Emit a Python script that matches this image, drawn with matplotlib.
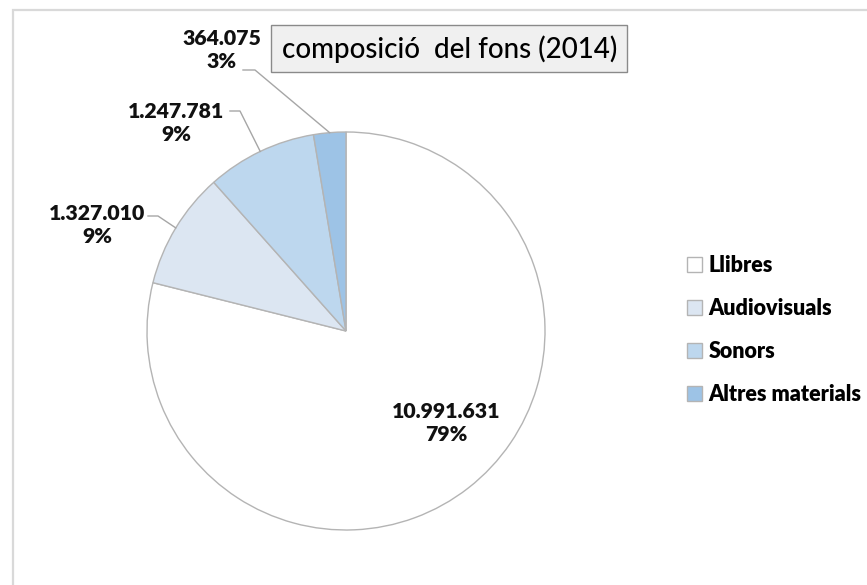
import numpy as np
import matplotlib.pyplot as plt
from matplotlib.patches import Rectangle

plt.rcParams['font.family'] = ['Lato', 'DejaVu Sans']

# Data
categories = ["Llibres", "Audiovisuals", "Sonors", "Altres materials"]
values = [10991631, 1327010, 1247781, 364075]
pct_labels = ["79%", "9%", "9%", "3%"]
colors = ["#ffffff", "#dce6f2", "#bdd7ee", "#9dc3e6"]
title = "composició  del fons (2014)"

W, H = 867, 585  # work in pixel coordinates (y measured from the top)


def py(y):
    return H - y


fig = plt.figure(figsize=(8.67, 5.85), dpi=100)
ax = fig.add_axes([0, 0, 1, 1])

cx, cy, r = 346, 331, 199
wedges, _ = ax.pie(values, colors=colors, startangle=90, counterclock=False,
                   center=(cx, py(cy)), radius=r, frame=True,
                   wedgeprops=dict(edgecolor="#b4b4b4", linewidth=1.0))
ax.set_xlim(0, W)
ax.set_ylim(0, H)
ax.set_aspect("equal")
ax.axis("off")

# outer chart frame (left and top edges visible)
ax.plot([13, 13, W], [py(H), py(10), py(10)], color="#d9d9d9", lw=1.6,
        solid_joinstyle="miter", zorder=0)

# title box
ax.add_patch(Rectangle((271, py(72)), 356, 47, facecolor="#f0f0f0",
                       edgecolor="#8a8a8a", lw=1.0, zorder=3))
ax.text(450, py(49), title, ha="center", va="center", fontsize=20,
        fontweight="medium", color="#000000", zorder=4)


def fmt(v):
    return f"{v:,}".replace(",", ".")


# label layout: (text centre, leader start, leader elbow) in image pixels
label_pos = [(446, 423), (97, 225), (176, 123), (222, 50)]
leaders = [None, ((148, 216), (158, 216)), ((230, 111), (240, 111)),
           ((243, 70), (255, 70))]

for i, w in enumerate(wedges):
    tx, ty = label_pos[i]
    ax.text(tx, py(ty), f"{fmt(values[i])}\n{pct_labels[i]}", ha="center",
            va="center", multialignment="center", fontsize=15.3,
            fontweight="heavy", color="#111111", linespacing=1.3, zorder=5)
    if leaders[i] is not None:
        mid = np.deg2rad((w.theta1 + w.theta2) / 2)
        ex, ey = cx + r * np.cos(mid), py(cy) + r * np.sin(mid)
        (sx, sy), (bx, by) = leaders[i]
        ax.plot([sx, bx, ex], [py(sy), py(by), ey], color="#a6a6a6", lw=1.0,
                zorder=2)

fig.legend(wedges, categories, loc="upper left",
           bbox_to_anchor=(687 / W, 1 - 255 / H), frameon=False,
           borderpad=0, borderaxespad=0, handlelength=0.7, handleheight=0.7,
           handletextpad=0.3, labelspacing=1.02,
           prop=dict(family="Lato", weight="heavy", size=15.5))

fig.savefig("out.png", dpi=100)
